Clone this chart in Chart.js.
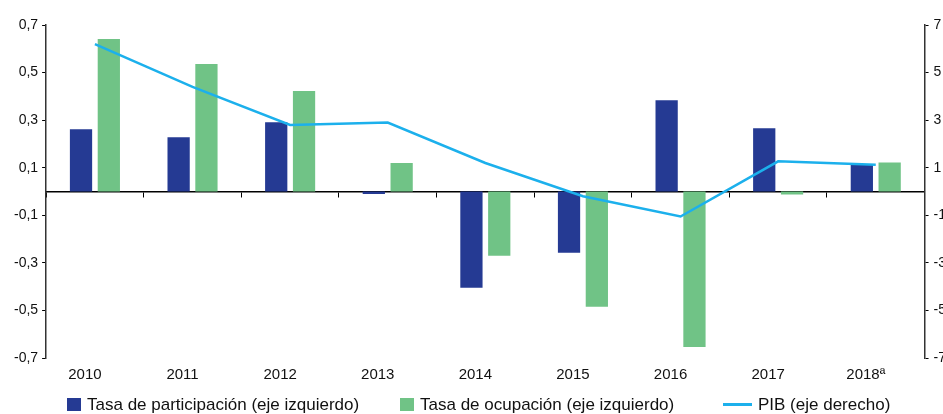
<!DOCTYPE html>
<html>
<head>
<meta charset="utf-8">
<script src="https://cdn.jsdelivr.net/npm/chart.js"></script>
<style>
    html, body {margin: 0; padding: 0; background: #fff; overflow: hidden;}
    .wrap {position: relative; width: 960px; height: 414px;}
    .legend {position: absolute; top: 395px; left: 0; width: 943px; height: 20px;
        font-family: "Liberation Sans", Arial, sans-serif; font-size: 17px; color: #111;}
    .legend .item {position: absolute; top: 0; white-space: nowrap; line-height: 20px;}
    .legend .sw {display: inline-block; vertical-align: middle; margin-right: 6px; position: relative; top: -1px;}
</style>
</head>
<body>
<div class="wrap">
    <canvas id="myChart" width="960" height="414"></canvas>
    <div class="legend" id="legend"></div>
</div>
<script>
    const years = ['2010', '2011', '2012', '2013', '2014', '2015', '2016', '2017', '2018ª']
    const participacion = [0.262, 0.228, 0.291, -0.01, -0.405, -0.257, 0.384, 0.266, 0.114]
    const ocupacion = [0.641, 0.536, 0.422, 0.12, -0.27, -0.485, -0.654, -0.013, 0.122]
    const pib = [6.2, 4.4, 2.8, 2.9, 1.2, -0.2, -1.05, 1.27, 1.12]
    const leftTicks = [0.7, 0.5, 0.3, 0.1, -0.1, -0.3, -0.5, -0.7]
    const rightTicks = [7, 5, 3, 1, -1, -3, -5, -7]
    const seriesNames = ['Tasa de participación (eje izquierdo)', 'Tasa de ocupación (eje izquierdo)', 'PIB (eje derecho)']

    const BLUE = '#253a93'
    const GREEN = '#70c386'
    const LINE = '#1cb0ec'
    const tickFont = {family: '"Liberation Sans", Arial, sans-serif', size: 14}
    const yearFont = {family: '"Liberation Sans", Arial, sans-serif', size: 15}

    const ctx = document.getElementById('myChart')

    new Chart(ctx, {
        type: 'bar',
        data: {
            labels: years,
            datasets: [
                {
                    type: 'line',
                    label: seriesNames[2],
                    data: pib,
                    yAxisID: 'y2',
                    borderColor: LINE,
                    borderWidth: 2.5,
                    pointRadius: 0,
                    tension: 0,
                    order: 0
                },
                {
                    label: seriesNames[0],
                    data: participacion,
                    yAxisID: 'y',
                    backgroundColor: BLUE,
                    categoryPercentage: 0.57,
                    barPercentage: 0.8,
                    order: 1
                },
                {
                    label: seriesNames[1],
                    data: ocupacion,
                    yAxisID: 'y',
                    backgroundColor: GREEN,
                    categoryPercentage: 0.57,
                    barPercentage: 0.8,
                    order: 1
                }
            ]
        },
        options: {
            responsive: false,
            animation: false,
            layout: {padding: {left: 10, right: 9, top: 25, bottom: 22}},
            plugins: {legend: {display: false}, tooltip: {enabled: false}},
            scales: {
                x: {
                    position: {y: 0},
                    grid: {drawOnChartArea: false, offset: true, tickLength: 5, color: '#000'},
                    border: {color: '#000', width: 1.5},
                    ticks: {display: false}
                },
                x2: {
                    type: 'category',
                    labels: years,
                    position: 'bottom',
                    grid: {display: false, drawTicks: false},
                    border: {display: false},
                    ticks: {font: yearFont, color: '#111', padding: 8, labelOffset: -10, maxRotation: 0}
                },
                y: {
                    position: 'left',
                    min: -0.7,
                    max: 0.7,
                    afterBuildTicks: scale => { scale.ticks = leftTicks.map(v => ({value: v})) },
                    grid: {drawOnChartArea: false, tickLength: 4, color: '#000'},
                    border: {color: '#333', width: 1.5},
                    ticks: {
                        font: tickFont, color: '#111', padding: 4,
                        callback: v => v.toFixed(1).replace('.', ',')
                    }
                },
                y2: {
                    position: 'right',
                    min: -7,
                    max: 7,
                    afterBuildTicks: scale => { scale.ticks = rightTicks.map(v => ({value: v})) },
                    grid: {drawOnChartArea: false, tickLength: 4, color: '#000'},
                    border: {color: '#333', width: 1.5},
                    ticks: {font: tickFont, color: '#111', padding: 5}
                }
            }
        }
    })

    // html legend, same order as in the picture
    const legendItems = [
        {name: seriesNames[0], color: BLUE, line: false, left: 67},
        {name: seriesNames[1], color: GREEN, line: false, left: 400},
        {name: seriesNames[2], color: LINE, line: true, left: 723}
    ]
    const legend = document.getElementById('legend')
    legendItems.forEach(item => {
        const el = document.createElement('span')
        el.className = 'item'
        el.style.left = item.left + 'px'
        const sw = document.createElement('span')
        sw.className = 'sw'
        if (item.line) {
            sw.style.width = '29px'
            sw.style.height = '3px'
            sw.style.marginRight = '6px'
        } else {
            sw.style.width = '14px'
            sw.style.height = '13px'
        }
        sw.style.background = item.color
        el.appendChild(sw)
        el.appendChild(document.createTextNode(item.name))
        legend.appendChild(el)
    })
</script>
</body>
</html>
